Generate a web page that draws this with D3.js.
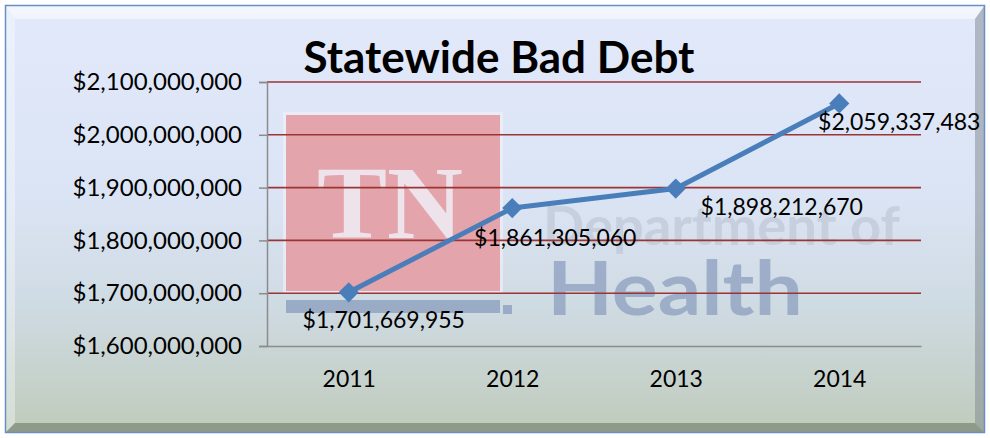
<!DOCTYPE html>
<html>
<head>
<meta charset="utf-8">
<script src="https://cdn.jsdelivr.net/npm/d3@7"></script>
<style>
  body { margin: 0; background: #fff; }
  svg { display: block; font-family: Lato, "Noto Sans", sans-serif; }
</style>
</head>
<body>
<div id="chart"></div>
<script>
// data
const years = ["2011", "2012", "2013", "2014"];
const badDebt = [1701669955, 1861305060, 1898212670, 2059337483];
const yTicks = [1600000000, 1700000000, 1800000000, 1900000000, 2000000000, 2100000000];
const chartTitle = "Statewide Bad Debt";

// label placement relative to each point (hand placed in the original)
const labelOffset = [[35, 36], [43, 38], [106, 26], [60, 27]];

const W = 990, H = 438;
const plot = { left: 267, right: 921, top: 82, bottom: 346 };

const svg = d3.select("#chart").append("svg")
  .attr("width", W).attr("height", H);

const defs = svg.append("defs");
const bg = defs.append("linearGradient").attr("id", "bg")
  .attr("x1", 0).attr("y1", 0).attr("x2", 0).attr("y2", 1);
bg.append("stop").attr("offset", "0%").attr("stop-color", "#e1e9fb");
bg.append("stop").attr("offset", "45%").attr("stop-color", "#dbe4f4");
bg.append("stop").attr("offset", "70%").attr("stop-color", "#cfdbe3");
bg.append("stop").attr("offset", "100%").attr("stop-color", "#bfcbbb");

const topBevel = defs.append("linearGradient").attr("id", "topBevel")
  .attr("x1", 0).attr("y1", 0).attr("x2", 0).attr("y2", 1);
topBevel.append("stop").attr("offset", "0%").attr("stop-color", "#f4f7ff");
topBevel.append("stop").attr("offset", "100%").attr("stop-color", "#ffffff").attr("stop-opacity", 0.5);

// frame
const fx0 = 5, fy0 = 5, fx1 = 985, fy1 = 433, b = 10;
svg.append("rect")
  .attr("x", fx0).attr("y", fy0)
  .attr("width", fx1 - fx0).attr("height", fy1 - fy0)
  .attr("fill", "url(#bg)");

const bevels = [
  { pts: [[fx0, fy0], [fx1, fy0], [fx1 - b, fy0 + 14], [fx0 + b, fy0 + 14]], fill: "url(#topBevel)", op: 0.95 },
  { pts: [[fx0, fy0], [fx0 + b, fy0 + 14], [fx0 + b, fy1 - b], [fx0, fy1]], fill: "#ffffff", op: 0.35 },
  { pts: [[fx1, fy0], [fx1, fy1], [fx1 - b, fy1 - b], [fx1 - b, fy0 + 14]], fill: "#7d858c", op: 0.5 },
  { pts: [[fx0, fy1], [fx1, fy1], [fx1 - b, fy1 - b], [fx0 + b, fy1 - b]], fill: "#66735f", op: 0.55 }
];
svg.append("g").selectAll("polygon").data(bevels).join("polygon")
  .attr("points", d => d.pts.map(p => p.join(",")).join(" "))
  .attr("fill", d => d.fill)
  .attr("opacity", d => d.op);

svg.append("rect")
  .attr("x", fx0 + 0.5).attr("y", fy0 + 0.5)
  .attr("width", fx1 - fx0 - 1).attr("height", fy1 - fy0 - 1)
  .attr("fill", "none").attr("stroke", "#6a8fc2").attr("stroke-width", 1.5);

// watermark logo
const wm = svg.append("g").attr("class", "watermark");
wm.append("rect").attr("x", 283).attr("y", 112).attr("width", 220).attr("height", 182)
  .attr("fill", "#f2f2f8").attr("opacity", 0.6);
wm.append("rect").attr("x", 286).attr("y", 115).attr("width", 214).attr("height", 176)
  .attr("fill", "#e3a4ab");
wm.append("rect").attr("x", 286).attr("y", 300).attr("width", 214).attr("height", 13)
  .attr("fill", "#93a5c2").attr("opacity", 0.9);
wm.append("text").attr("x", 390).attr("y", 238)
  .attr("text-anchor", "middle")
  .attr("font-family", "'Liberation Serif', serif").attr("font-weight", "bold")
  .attr("font-size", 104).attr("fill", "#f0eef6").attr("opacity", 0.85)
  .attr("textLength", 146).attr("lengthAdjust", "spacingAndGlyphs")
  .text("TN");
wm.append("text").attr("x", 543).attr("y", 245)
  .attr("font-weight", "bold").attr("font-size", 54)
  .attr("fill", "#bcc4d3").attr("opacity", 0.6)
  .attr("textLength", 357).attr("lengthAdjust", "spacingAndGlyphs")
  .text("Department of");
wm.append("rect").attr("x", 503).attr("y", 305).attr("width", 9).attr("height", 9)
  .attr("fill", "#8d9fc0").attr("opacity", 0.8);
wm.append("text").attr("x", 547).attr("y", 315)
  .attr("font-weight", "bold").attr("font-size", 74)
  .attr("fill", "#8d9fc0").attr("opacity", 0.75)
  .attr("textLength", 256).attr("lengthAdjust", "spacingAndGlyphs")
  .text("Health");

// scales
const x = d3.scalePoint().domain(years).range([plot.left, plot.right]).padding(0.5);
const y = d3.scaleLinear().domain([yTicks[0], yTicks[yTicks.length - 1]])
  .range([plot.bottom, plot.top]);

// gridlines
svg.append("g").selectAll("line").data(yTicks.slice(1)).join("line")
  .attr("x1", plot.left).attr("x2", plot.right)
  .attr("y1", d => y(d)).attr("y2", d => y(d))
  .attr("stroke", "#9b3535").attr("stroke-width", 1.6);

// y axis
const fmt = d3.format("$,");
const yAxis = svg.append("g")
  .attr("transform", `translate(${plot.left},0)`)
  .call(d3.axisLeft(y).tickValues(yTicks).tickSize(8).tickPadding(17).tickFormat(fmt));
yAxis.select(".domain").attr("stroke", "#8c8c8c").attr("stroke-width", 1.5);
yAxis.selectAll(".tick line").attr("stroke", "#8c8c8c").attr("stroke-width", 1.5);
yAxis.selectAll(".tick text")
  .attr("font-family", "Lato, sans-serif").attr("font-size", 24)
  .attr("fill", "#000").attr("dy", "0.32em");

// x axis
const xAxis = svg.append("g")
  .attr("transform", `translate(0,${plot.bottom})`)
  .call(d3.axisBottom(x).tickSize(0).tickPadding(25));
xAxis.select(".domain").attr("stroke", "#8c8c8c").attr("stroke-width", 1.5);
xAxis.selectAll(".tick text")
  .attr("font-family", "Lato, sans-serif").attr("font-size", 23).attr("fill", "#000");

// line
const pts = years.map((yr, i) => ({ year: yr, value: badDebt[i], off: labelOffset[i] }));
svg.append("path")
  .datum(pts)
  .attr("fill", "none")
  .attr("stroke", "#4a7ebb")
  .attr("stroke-width", 5)
  .attr("stroke-linejoin", "round")
  .attr("d", d3.line().x(d => x(d.year)).y(d => y(d.value)));

svg.append("g").selectAll("path").data(pts).join("path")
  .attr("transform", d => `translate(${x(d.year)},${y(d.value)})`)
  .attr("d", d3.symbol().type(d3.symbolDiamond2).size(260))
  .attr("fill", "#4a7ebb");

// data labels
svg.append("g").selectAll("text").data(pts).join("text")
  .attr("x", d => x(d.year) + d.off[0])
  .attr("y", d => y(d.value) + d.off[1])
  .attr("text-anchor", "middle")
  .attr("font-size", 23)
  .attr("fill", "#000")
  .text(d => fmt(d.value));

// title
svg.append("text")
  .attr("x", 499).attr("y", 73)
  .attr("text-anchor", "middle")
  .attr("font-weight", "bold").attr("font-size", 44)
  .attr("fill", "#000")
  .text(chartTitle);
</script>
</body>
</html>
